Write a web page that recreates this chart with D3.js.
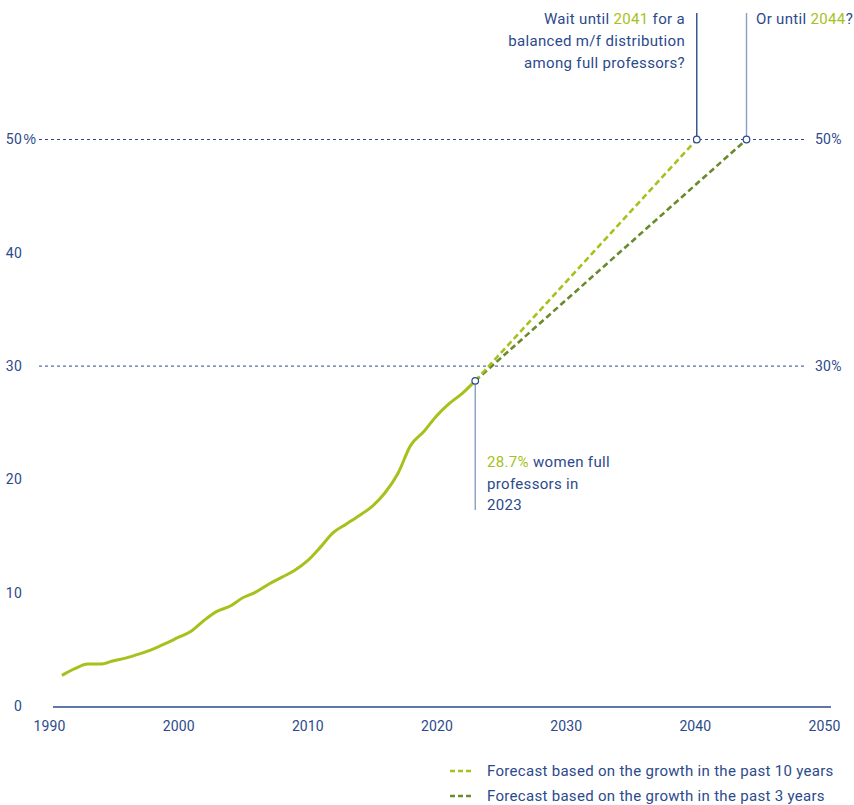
<!DOCTYPE html>
<html>
<head>
<meta charset="utf-8">
<script src="https://cdn.jsdelivr.net/npm/d3@7"></script>
<style>
  html, body { margin: 0; padding: 0; background: #fff; }
  svg { display: block; font-family: Roboto, "Noto Sans", sans-serif; }
</style>
</head>
<body>
<svg id="chart" width="854" height="805"></svg>
<script>
// Share of women among full professors (%), observed series
const years = [1991, 1992, 1993, 1994, 1995, 1996, 1997, 1998, 1999, 2000,
               2001, 2002, 2003, 2004, 2005, 2006, 2007, 2008, 2009, 2010,
               2011, 2012, 2013, 2014, 2015, 2016, 2017, 2018, 2019, 2020,
               2021, 2022, 2023];
const shareWomen = [2.7, 3.3, 3.7, 3.7, 4.0, 4.25, 4.6, 5.0, 5.5, 6.05,
                    6.6, 7.55, 8.35, 8.8, 9.55, 10.05, 10.75, 11.35, 11.95, 12.8,
                    14.0, 15.3, 16.05, 16.8, 17.6, 18.8, 20.5, 23.0, 24.2, 25.6,
                    26.7, 27.6, 28.7];

// Forecasts: from the 2023 value to parity
const forecast10Years = [2023, 2040.15];
const forecast10Values = [28.7, 50];
const forecast3Years = [2023, 2044];
const forecast3Values = [28.7, 50];

// Axis ticks
const xTicks = [1990, 2000, 2010, 2020, 2030, 2040, 2050];
const yTicks = [0, 10, 20, 30, 40, 50];
const gridValues = [30, 50];

const legendLabels = [
  "Forecast based on the growth in the past 10 years",
  "Forecast based on the growth in the past 3 years"
];

const NAVY = "#2c4a8b";
const PALE = "#8d9dc2";
const GREEN = "#a5c21c";
const DARK_GREEN = "#6a8a2c";
const SPACING = "0.33px";

const svg = d3.select("#chart");

const x = d3.scaleLinear().domain([1990, 2050]).range([49, 824]);
const y = d3.scaleLinear().domain([0, 50]).range([706, 139.5]);

// Dashed reference lines at 30% and 50%
svg.append("g").selectAll("line")
  .data(gridValues)
  .join("line")
  .attr("x1", 39).attr("x2", 807)
  .attr("y1", d => y(d)).attr("y2", d => y(d))
  .attr("stroke", NAVY)
  .attr("stroke-width", 1)
  .attr("stroke-dasharray", "3,3");

// Right-hand percentage labels for the reference lines
svg.append("g").selectAll("text")
  .data(gridValues)
  .join("text")
  .attr("x", 815)
  .attr("y", d => y(d))
  .attr("dy", "0.35em")
  .attr("fill", NAVY)
  .attr("font-size", 14)
  .attr("letter-spacing", "0.2px")
  .text(d => d + "%");

// Left axis
const yAxis = svg.append("g")
  .attr("transform", "translate(22,0)")
  .call(d3.axisLeft(y).tickValues(yTicks).tickSize(0).tickPadding(0).tickFormat(d => d));
yAxis.select(".domain").remove();
yAxis.selectAll("text")
  .attr("fill", NAVY)
  .attr("font-size", 14)
  .attr("letter-spacing", "0.2px")
  .attr("font-family", "Roboto, sans-serif");
yAxis.selectAll(".tick")
  .filter(d => d === 50)
  .append("text")
  .attr("x", 1.5)
  .attr("dy", "0.32em")
  .attr("text-anchor", "start")
  .attr("fill", NAVY)
  .attr("font-size", 14)
  .text("%");

// Bottom axis
const xAxis = svg.append("g")
  .attr("transform", "translate(0,707)")
  .call(d3.axisBottom(x).tickValues(xTicks).tickSize(0).tickPadding(14).tickFormat(d3.format("d")));
xAxis.select(".domain").remove();
xAxis.selectAll("text")
  .attr("fill", NAVY)
  .attr("font-size", 14)
  .attr("letter-spacing", "0.1px")
  .attr("font-family", "Roboto, sans-serif");
xAxis.append("line")
  .attr("x1", 53).attr("x2", 831)
  .attr("stroke", NAVY)
  .attr("stroke-width", 1.3);

// Forecast lines
const line = d3.line().x(d => x(d[0])).y(d => y(d[1]));
svg.append("path")
  .datum(d3.zip(forecast3Years, forecast3Values))
  .attr("d", line)
  .attr("fill", "none")
  .attr("stroke", DARK_GREEN)
  .attr("stroke-width", 2.6)
  .attr("stroke-dasharray", "6,3.5");
svg.append("path")
  .datum(d3.zip(forecast10Years, forecast10Values))
  .attr("d", line)
  .attr("fill", "none")
  .attr("stroke", GREEN)
  .attr("stroke-width", 2.6)
  .attr("stroke-dasharray", "6,3.5");

// Observed series
svg.append("path")
  .datum(d3.zip(years, shareWomen))
  .attr("d", line.curve(d3.curveMonotoneX))
  .attr("fill", "none")
  .attr("stroke", GREEN)
  .attr("stroke-width", 3)
  .attr("stroke-linejoin", "round");

// Callout leaders
const lastYear = years[years.length - 1];
const lastValue = shareWomen[shareWomen.length - 1];
const callouts = [
  { x: forecast10Years[1], y1: 13, y2: y(50), color: NAVY },
  { x: forecast3Years[1], y1: 13, y2: y(50), color: PALE },
  { x: lastYear, y1: y(lastValue), y2: 510, color: PALE }
];
svg.append("g").selectAll("line")
  .data(callouts)
  .join("line")
  .attr("x1", d => x(d.x)).attr("x2", d => x(d.x))
  .attr("y1", d => d.y1).attr("y2", d => d.y2)
  .attr("stroke", d => d.color)
  .attr("stroke-width", 1.4);

// Markers
const markers = [
  [forecast10Years[1], 50],
  [forecast3Years[1], 50],
  [lastYear, lastValue]
];
svg.append("g").selectAll("circle")
  .data(markers)
  .join("circle")
  .attr("cx", d => x(d[0]))
  .attr("cy", d => y(d[1]))
  .attr("r", 3.3)
  .attr("fill", "#fff")
  .attr("stroke", NAVY)
  .attr("stroke-width", 1.2);

// Annotation text
function multiline(g, lines, xPos, yStart, lh, anchor) {
  const t = g.append("text")
    .attr("x", xPos).attr("y", yStart)
    .attr("text-anchor", anchor)
    .attr("font-size", 15)
    .attr("letter-spacing", SPACING)
    .attr("fill", NAVY);
  lines.forEach((parts, i) => {
    parts.forEach((p, j) => {
      const ts = t.append("tspan").text(p.t).attr("fill", p.c || NAVY);
      if (j === 0) ts.attr("x", xPos).attr("y", yStart + i * lh);
    });
  });
}
const ann = svg.append("g");
multiline(ann, [
  [{ t: "Wait until " }, { t: "2041", c: GREEN }, { t: " for a" }],
  [{ t: "balanced m/f distribution" }],
  [{ t: "among full professors?" }]
], 685, 24, 22, "end");
multiline(ann, [
  [{ t: "Or until " }, { t: "2044", c: GREEN }, { t: "?" }]
], 756, 24, 22, "start");
multiline(ann, [
  [{ t: "28.7%", c: GREEN }, { t: " women full" }],
  [{ t: "professors in" }],
  [{ t: "2023" }]
], 487, 467, 21.5, "start");

// Legend
const legend = svg.append("g");
const legendColors = [GREEN, DARK_GREEN];
legendLabels.forEach((label, i) => {
  const yy = 771 + i * 25;
  legend.append("line")
    .attr("x1", 450).attr("x2", 471)
    .attr("y1", yy).attr("y2", yy)
    .attr("stroke", legendColors[i])
    .attr("stroke-width", 2.6)
    .attr("stroke-dasharray", "5,3");
  legend.append("text")
    .attr("x", 487).attr("y", yy)
    .attr("dy", "0.35em")
    .attr("font-size", 15)
    .attr("letter-spacing", "0.3px")
    .attr("fill", NAVY)
    .text(label);
});
</script>
</body>
</html>
